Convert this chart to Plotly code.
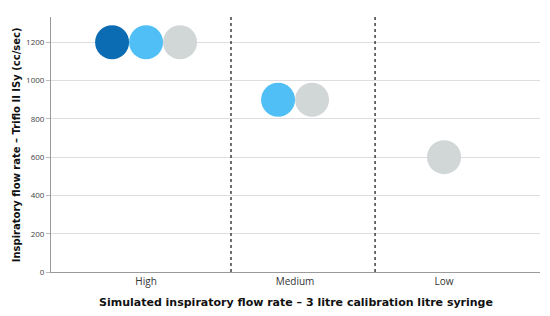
import plotly.graph_objects as go

categories = ["High", "Medium", "Low"]
series_names = ["Series 1", "Series 2", "Series 3"]
series_colors = ["#0B6CB3", "#50BFF6", "#D1D6D7"]
# values per series for each category (None = not present)
series_values = [
    [1200, None, None],
    [1200, 900, None],
    [1200, 900, 600],
]
y_ticks = [0, 200, 400, 600, 800, 1000, 1200]

spacing = 0.228
fig = go.Figure()
for ci, cat in enumerate(categories):
    present = [si for si in range(len(series_names)) if series_values[si][ci] is not None]
    n = len(present)
    for k, si in enumerate(present):
        fig.add_trace(go.Scatter(
            x=[ci + (k - (n - 1) / 2) * spacing],
            y=[series_values[si][ci]],
            mode="markers",
            name=series_names[si],
            showlegend=False,
            marker=dict(size=34, color=series_colors[si], line=dict(width=0)),
        ))

for xd in [0.57, 1.537]:
    fig.add_shape(type="line", xref="x", yref="paper", x0=xd, x1=xd, y0=0, y1=1,
                  line=dict(color="#222222", width=1.3, dash="dot"), layer="above")

# page body has an 8px margin; compensate so the plot lands where the reference has it
fig.update_layout(
    width=542, height=308,
    margin=dict(l=43, r=10, t=9, b=44, autoexpand=False),
    paper_bgcolor="white", plot_bgcolor="white",
    font=dict(family="Open Sans, DejaVu Sans, sans-serif", color="#333333"),
    xaxis=dict(range=[-0.638, 2.644], tickvals=list(range(len(categories))), ticktext=categories,
               showgrid=False, zeroline=False, showline=True, linecolor="#9a9a9a", linewidth=1,
               ticks="", tickfont=dict(size=10, color="#333333"), fixedrange=True),
    yaxis=dict(range=[0, 1332], tickvals=y_ticks, showgrid=True, gridcolor="#dedede", gridwidth=1,
               zeroline=False, showline=True, linecolor="#9a9a9a", linewidth=1,
               ticks="outside", ticklen=4, tickcolor="#bbbbbb",
               tickfont=dict(size=8, color="#444444")),
    annotations=[
        dict(text="<b>Simulated inspiratory flow rate – 3 litre calibration litre syringe</b>",
             xref="paper", yref="paper", x=0.5, y=-0.085, xanchor="center", yanchor="top",
             showarrow=False, font=dict(size=11, color="#111111", family="DejaVu Sans, sans-serif")),
        dict(text="<b>Inspiratory flow rate – Triflo II ISy (cc/sec)</b>",
             xref="paper", yref="paper", x=-0.07, y=0.5, xanchor="center", yanchor="middle",
             textangle=-90, showarrow=False,
             font=dict(size=10, color="#111111", family="DejaVu Sans, sans-serif")),
    ],
)

fig.write_html("out.html")
